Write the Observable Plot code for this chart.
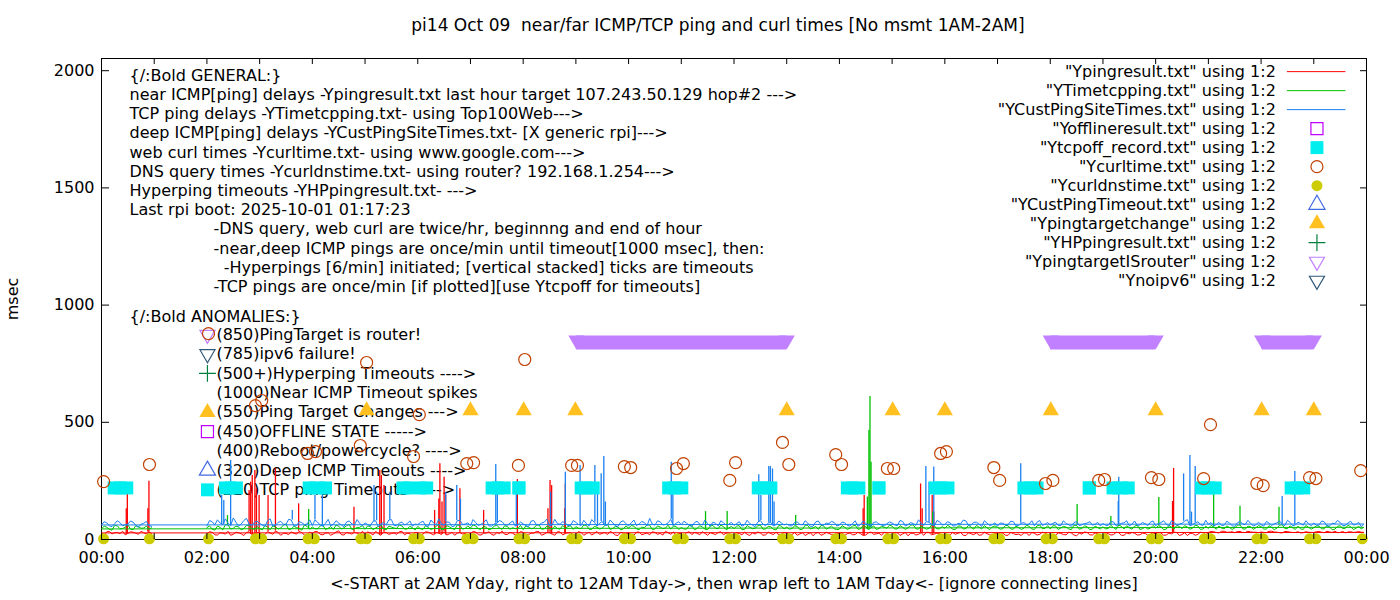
<!DOCTYPE html>
<html><head><meta charset="utf-8">
<script src="https://cdn.jsdelivr.net/npm/d3@7"></script>
<script src="https://cdn.jsdelivr.net/npm/@observablehq/plot@0.6"></script>
<style>body{margin:0;background:#fff}</style>
</head><body><div id="chart"></div>
<script>
// ---------------- DATA ----------------
const title = "pi14 Oct 09  near/far ICMP/TCP ping and curl times [No msmt 1AM-2AM]";
const xLabel = "<-START at 2AM Yday, right to 12AM Tday->, then wrap left to 1AM Tday<- [ignore connecting lines]";
const yLabel = "msec";
const xTickHours = [0,2,4,6,8,10,12,14,16,18,20,22,24];
const xTickLabels = ["00:00","02:00","04:00","06:00","08:00","10:00","12:00","14:00","16:00","18:00","20:00","22:00","00:00"];
const xMinorHours = [0,1,2,3,4,5,6,7,8,9,10,11,12,13,14,15,16,17,18,19,20,21,22,23,24];
const yTicks = [0,500,1000,1500,2000];

// file order: 2AM..midnight, then 0AM..1AM (wrap)
const baselineHours = [2,3,4,5,6,7,8,9,10,11,12,13,14,15,16,17,18,19,20,21,22,23,0];
// readings every 6 min from hh:00 ("A") and every 6 min from hh:03 ("B")
// near ICMP (Ypingresult)
const redA = [
"24 31 19 27 35 22 29 17 33 25","30 21 28 36 18 26 32 23 29 20","26 33 20 29 24 37 19 27 31 22",
"21 28 34 18 30 25 22 35 27 19","29 23 31 20 27 34 24 18 30 26","25 32 19 28 22 30 36 21 27 24",
"31 20 27 33 23 29 18 32 25 28","22 30 25 19 34 26 21 29 17 27","28 18 32 24 20 30 26 35 22 19",
"24 29 21 27 33 18 25 30 20 28","19 26 31 17 23 28 20 25 32 22","27 21 18 29 24 16 30 22 26 19",
"23 17 28 21 25 19 32 24 18 27","20 29 24 16 27 22 18 30 23 25","26 19 22 30 17 24 28 20 25 18",
"21 27 18 25 23 29 17 26 22 28","24 18 26 20 28 16 23 30 19 25","17 25 21 29 18 24 27 20 26 22",
"23 28 19 24 30 21 17 26 22 29","30 33 28 35 31 29 34 30 32 31","32 29 35 31 28 34 30 33 29 31",
"30 34 29 32 35 30 28 33 31 31","28 33 24 30 35 26 31 22 29 31"];
const redB = [
"33 20 29 23 18 31 24 30 21 28","18 33 22 30 26 21 27 35 19 31","34 22 27 18 32 21 30 23 27 35",
"32 19 26 31 22 28 33 20 24 30","20 33 25 30 21 19 31 27 23 20","34 20 27 33 18 25 22 30 19 33",
"22 27 34 18 30 23 33 20 29 21","33 18 31 26 22 30 34 19 31 23","21 31 20 28 33 22 19 29 32 26",
"18 33 30 20 26 29 21 33 27 18","28 20 22 29 32 18 31 21 19 30","20 30 24 17 29 27 18 31 21 29",
"29 25 20 31 17 28 22 27 31 20","28 17 30 26 19 29 31 20 27 18","17 30 27 18 29 21 18 31 20 29",
"29 18 30 21 17 27 30 19 31 20","17 28 21 31 19 27 32 20 28 17","29 19 31 18 28 30 19 27 18 29",
"30 18 27 31 17 29 26 18 31 20","34 30 35 31 33 34 30 35 31 29","30 35 32 29 34 31 30 28 33 30",
"33 31 35 30 29 34 32 30 34 30","21 34 29 25 20 33 27 35 24 26"];
const redSpikes = [[0.47,131],[0.49,195],[0.88,131],[0.90,249],[2.80,209],[2.83,244],[2.86,273],[2.91,294],
[2.94,216],[2.99,188],[3.16,188],[3.30,301],[3.74,152],[4.79,138],[5.28,294],[5.31,273],[5.36,230],
[6.32,124],[6.40,173],[6.42,323],[6.46,160],[6.50,266],[6.53,188],[6.80,216],[7.25,124],[7.89,256],
[8.47,131],[8.51,252],[8.54,230],[8.79,131],[8.80,237],[14.45,131],[14.47,188],[15.54,237],[15.57,131],
[15.76,188],[15.79,117],[20.32,162],[20.34,303]];

// TCP ping (YTimetcpping)
const greenA = [
"50 44 57 41 62 48 53 46 59 43","47 60 42 54 49 66 45 51 40 56","53 45 61 48 43 57 50 64 46 52",
"44 55 49 62 41 53 47 58 45 50","56 43 51 47 65 45 54 42 60 48","49 58 44 52 46 61 43 55 50 47",
"42 53 48 63 45 51 57 44 49 59","55 46 60 43 52 48 64 47 53 45","48 57 42 50 61 45 53 49 44 56",
"51 44 58 47 53 42 60 46 55 49","46 59 43 52 48 62 45 54 41 57","53 47 56 44 60 49 43 58 50 46",
"44 52 48 61 45 55 50 43 57 48","57 45 52 49 63 44 51 47 59 46","48 55 43 58 46 52 60 45 50 54",
"52 46 59 44 51 48 56 43 62 47","45 58 49 53 42 60 47 55 44 51","54 47 51 62 45 50 57 43 53 48",
"49 56 44 52 60 46 53 48 58 45","47 53 58 45 51 49 62 44 55 50","55 44 52 48 63 46 50 57 43 52",
"50 57 46 53 44 59 48 54 47 45","45 52 40 58 47 63 42 55 49 44"];
const greenB = [
"58 40 52 63 45 57 42 60 48 55","41 53 58 45 61 43 56 47 62 44","46 58 42 55 62 45 59 43 51 60",
"58 42 55 46 57 49 62 44 56 41","46 60 43 56 42 59 47 62 44 57","62 45 56 41 57 49 59 44 46 60",
"58 46 61 44 57 42 47 60 55 43","48 62 44 56 45 60 43 56 41 58","60 45 53 63 42 58 46 61 57 43",
"45 60 42 59 44 57 48 62 42 56","57 42 60 46 58 44 56 43 60 45","44 58 42 61 45 56 60 44 57 42",
"59 43 57 44 60 42 58 47 52 61","45 59 43 61 46 58 44 62 45 55","60 43 57 45 61 44 52 59 42 58",
"44 60 45 57 43 61 45 58 46 59","59 43 56 45 61 44 58 42 57 45","45 60 43 56 59 44 61 46 45 60",
"58 42 60 45 56 59 44 61 43 57","60 44 49 58 43 61 46 57 43 59","45 59 42 61 47 58 43 45 60 44",
"58 45 60 42 56 46 61 43 57 52","57 43 60 46 52 44 59 48 57 50"];
const greenSpikes = [[2.39,102],[3.93,128],[11.46,119],[11.87,119],[13.17,102],[14.53,181],[14.56,465],
[14.58,610],[14.60,330],[15.77,117],[18.51,149],[19.15,98],[20.06,179],[21.10,193],[21.60,142],[22.34,138]];

// deep ICMP (YCustPingSiteTimes)
const blueA = [
"58 76 84 63 70 92 57 81 66 73","69 55 88 61 77 64 83 59 72 66","60 74 57 86 65 70 55 79 63 68",
"71 58 80 66 62 85 59 74 68 57","64 78 56 70 88 61 73 58 82 66","59 72 65 84 57 69 76 61 79 63",
"67 55 81 62 74 58 86 65 70 60","73 60 68 85 57 77 62 71 56 80","58 83 66 72 90 61 75 64 86 69",
"63 70 56 78 62 67 74 58 71 65","60 76 63 68 55 81 59 72 64 70","66 58 75 62 70 57 79 61 68 73",
"61 72 57 80 64 69 55 75 62 67","70 59 77 63 68 84 60 73 58 76","64 71 58 67 79 62 74 56 70 63",
"57 69 63 76 60 72 66 58 81 65","62 74 59 68 56 77 63 70 61 73","68 60 75 64 71 58 79 62 67 74",
"59 72 66 80 61 69 85 63 76 60","65 58 73 61 70 56 78 64 69 62","63 77 60 71 66 82 58 74 61 68",
"70 62 75 58 67 73 60 78 64 55","62 71 55 80 58 66 74 52 69 60"];
const blueB = [
"81 62 70 88 59 74 66 90 61 78","62 80 57 73 66 86 58 76 63 84","83 61 69 58 80 62 75 66 85 59",
"64 77 55 73 83 60 70 62 79 66","72 58 83 62 67 75 55 80 64 71","85 60 73 58 66 81 63 70 57 74",
"59 78 64 70 87 62 68 76 59 81","64 82 57 74 69 60 83 58 75 67","71 60 77 58 66 80 62 71 59 76",
"78 60 72 65 83 57 69 80 62 73","68 57 82 61 74 65 70 58 79 62","59 73 64 80 56 75 62 70 77 58",
"74 60 68 56 79 62 73 66 58 75","62 81 58 72 60 70 77 65 81 62","76 58 69 83 60 73 65 80 59 71",
"70 62 78 58 69 63 80 74 60 72","69 60 80 63 72 59 68 76 65 58","61 77 58 69 80 65 60 73 59 79",
"68 80 57 73 65 78 59 70 63 82","72 63 60 78 59 71 66 82 58 74","57 70 66 79 59 73 62 68 80 59",
"61 79 57 69 81 59 71 62 73 66","76 58 67 72 63 79 60 65 77 56"];
const blueSpikes = [[2.28,188],[2.32,166],[2.45,337],[3.62,124],[4.05,188],[4.19,188],[5.17,230],[5.22,202],
[5.47,202],[6.53,202],[6.74,230],[6.81,173],[7.48,320],[7.51,216],[7.87,202],[8.52,202],[8.80,287],
[9.08,316],[9.36,316],[9.41,230],[9.48,280],[9.53,354],[9.56,160],[10.81,330],[10.84,202],[12.47,276],
[12.51,188],[12.66,311],[12.69,311],[12.73,301],[12.76,160],[15.64,311],[15.70,244],[15.79,309],
[17.44,323],[19.29,162],[19.30,266],[20.53,280],[20.65,358],[20.68,117],[20.75,311],[22.40,183],[22.64,290]];

// TCP ping timeout runs (Ytcpoff_record, plotted at 220): first / last minute of each run (hours)
const tcpOffStart = [0.24,2.35,3.94,5.72,7.41,7.92,9.10,10.76,12.46,14.15,14.75,15.82,17.50,18.74,19.19,20.87,22.57];
const tcpOffEnd   = [0.48,2.56,4.25,6.17,7.64,7.92,9.33,11.01,12.70,14.37,14.75,16.06,17.75,18.74,19.48,21.13,22.81];
const tcpOffValue = 220;

// ping target is router (plotted at 850): runs
const routerStart = [9.01,18.01,22.02];
const routerEnd   = [13.00,20.00,23.00];
const routerValue = 850;

// ping target changes (plotted at 550)
const targetChangeHours = [5.03,7.00,8.01,8.99,13.00,15.01,16.00,18.01,20.00,22.01,23.00];
const targetChangeValue = 550;

// web curl times (Ycurltime)
const curlHours = [0.04,0.91,2.03,2.92,3.04,3.91,4.06,4.91,5.03,5.92,6.03,6.93,7.06,7.91,8.03,8.92,9.03,9.92,10.04,
10.91,11.04,11.92,12.03,12.92,13.04,13.93,14.04,14.91,15.03,15.92,16.03,16.93,17.04,17.91,18.05,18.92,19.03,
19.92,20.06,20.91,21.04,21.92,22.04,22.92,23.04,23.89];
const curlMsec = [247,320,878,571,593,367,375,401,755,354,533,324,328,316,768,316,316,311,307,
303,324,252,328,414,320,362,320,303,303,367,375,307,252,239,252,252,256,
264,256,260,490,239,230,264,260,294];

// DNS query times (Ycurldnstime)
const dnsHours = [0.04,0.91,2.03,2.92,3.04,3.92,4.04,4.92,5.03,5.92,6.03,6.93,7.05,7.92,8.03,8.92,9.03,9.92,10.04,
10.92,11.04,11.92,12.03,12.92,13.04,13.93,14.04,14.92,15.03,15.92,16.03,16.93,17.04,17.92,18.04,18.92,19.03,
19.92,20.05,20.92,21.04,21.92,22.04,22.92,23.04,23.92];
const dnsMsec = [3,3,3,3,3,3,3,3,3,3,3,3,3,3,3,3,3,3,3,3,3,3,3,3,3,3,3,3,3,3,3,3,3,3,3,3,3,3,3,3,3,3,3,3,3,3];

const generalLines = [
"{/:Bold GENERAL:}",
"near ICMP[ping] delays -Ypingresult.txt last hour target 107.243.50.129 hop#2 --->",
"TCP ping delays -YTimetcpping.txt- using Top100Web--->",
"deep ICMP[ping] delays -YCustPingSiteTimes.txt- [X generic rpi]--->",
"web curl times -Ycurltime.txt- using www.google.com--->",
"DNS query times -Ycurldnstime.txt- using router? 192.168.1.254--->",
"Hyperping timeouts -YHPpingresult.txt- --->",
"Last rpi boot: 2025-10-01 01:17:23"];
const noteLines = [
"-DNS query, web curl are twice/hr, beginnng and end of hour",
"-near,deep ICMP pings are once/min until timeout[1000 msec], then:",
"\u00a0\u00a0-Hyperpings [6/min] initiated; [vertical stacked] ticks are timeouts",
"-TCP pings are once/min [if plotted][use Ytcpoff for timeouts]"];
const anomalyHeader = "{/:Bold ANOMALIES:}";
const anomalyLines = ["(850)PingTarget is router!","(785)ipv6 failure!","(500+)Hyperping Timeouts ---->",
"(1000)Near ICMP Timeout spikes","(550)Ping Target Changes --->","(450)OFFLINE STATE ----->",
"(400)Reboot/powercycle? ---->","(320)Deep ICMP Timeouts ---->","(220)TCP ping Timeouts ----->"];
const legendLabels = ['"Ypingresult.txt" using 1:2','"YTimetcpping.txt" using 1:2','"YCustPingSiteTimes.txt" using 1:2',
'"Yofflineresult.txt" using 1:2','"Ytcpoff_record.txt" using 1:2','"Ycurltime.txt" using 1:2','"Ycurldnstime.txt" using 1:2',
'"YCustPingTimeout.txt" using 1:2','"Ypingtargetchange" using 1:2','"YHPpingresult.txt" using 1:2',
'"YpingtargetISrouter" using 1:2','"Ynoipv6" using 1:2'];

// ---------------- STYLES ----------------
const C = {red:"#ff0000", green:"#00c000", blue:"#1a80f0", offline:"#c000ff", tcpoff:"#00eeee", curl:"#c04000",
  dns:"#cccc00", deep:"#4169e1", target:"#ffc020", hp:"#008040", router:"#c080ff", ipv6:"#305878"};
const legendKeys = [
 {kind:"line", c:C.red},{kind:"line", c:C.green},{kind:"line", c:C.blue},
 {kind:"dot", c:C.offline, s:"square", fill:false, r:6.8, rot:0},
 {kind:"dot", c:C.tcpoff, s:"square", fill:true, r:7.3, rot:0},
 {kind:"dot", c:C.curl, s:"circle", fill:false, r:6, rot:0},
 {kind:"dot", c:C.dns, s:"circle", fill:true, r:5.5, rot:0},
 {kind:"dot", c:C.deep, s:"triangle", fill:false, r:6, rot:0},
 {kind:"dot", c:C.target, s:"triangle", fill:true, r:6, rot:0},
 {kind:"dot", c:C.hp, s:"plus", fill:false, r:5.5, rot:0},
 {kind:"dot", c:C.router, s:"triangle", fill:false, r:5.6, rot:180},
 {kind:"dot", c:C.ipv6, s:"triangle", fill:false, r:5.6, rot:180}];
const anomalyKeyRows = [[0,10],[1,11],[2,9],[4,8],[5,3],[7,7],[8,4]];

// layout (data units: hours, msec)
const YMAX = 2052, PLOT_H = 481, PLOT_W = 1265;
const pxY = p => p * YMAX / PLOT_H, pxX = p => p * 24 / PLOT_W;
const GEN = {x: 0.531, y: 1979, step: pxY(19.2)};
const NOTE = {x: 2.125};
const ANOM = {hx: 0.531, hy: 951, x: 2.18, y: 874, step: pxY(19.4), keyX: 2.01};
const LEG = {x: 22.28, y: 1996, step: pxY(19), l1: 22.50, l2: 23.61, sx: 23.06};
const FONT = "DejaVu Sans", FS = 16;

// ---------------- BUILD ----------------
const fileKey = h => h < 1.5 ? h + 24 : h;
function baseline(a, b) {
  const pts = [];
  const add = (arr, off) => arr.forEach((s, k) => s.trim().split(/\s+/).map(Number)
    .forEach((v, i) => pts.push({h: baselineHours[k] + off + i / 10, v})));
  add(a, 0); add(b, 0.05);
  pts.sort((p, q) => fileKey(p.h) - fileKey(q.h));
  return pts;
}
// each spike is a one-minute excursion from the surrounding reading
function spikeRules(pts, spikes) {
  return spikes.map(([h, v]) => {
    const near = d3.least(pts, d => Math.abs(d.h - h));
    return {h, v, b: near.v};
  });
}
const red = baseline(redA, redB), green = baseline(greenA, greenB), blue = baseline(blueA, blueB);
const redS = spikeRules(red, redSpikes), greenS = spikeRules(green, greenSpikes), blueS = spikeRules(blue, blueSpikes);
const tcpRuns = tcpOffStart.map((s, i) => ({s, e: tcpOffEnd[i]}));
const tcpEnds = tcpRuns.flatMap(d => [d.s, d.e]);
const routerRuns = routerStart.map((s, i) => ({s, e: routerEnd[i]}));
const routerEnds = routerRuns.flatMap(d => [d.s, d.e]);
const curl = curlHours.map((h, i) => ({h, v: curlMsec[i]}));
const dns = dnsHours.map((h, i) => ({h, v: dnsMsec[i]}));

const genRows = generalLines.map((t, i) => ({t, y: GEN.y - i * GEN.step}));
const noteRows = noteLines.map((t, i) => ({t, y: GEN.y - (i + generalLines.length) * GEN.step}));
const anomRows = anomalyLines.map((t, i) => ({t, y: ANOM.y - i * ANOM.step}));
const legRows = legendLabels.map((t, i) => ({t, y: LEG.y - i * LEG.step, k: legendKeys[i]}));
const anomKeys = anomalyKeyRows.map(([row, ki]) => ({y: ANOM.y - row * ANOM.step, k: legendKeys[ki]}));

function keyMarks(rows, x) {
  const groups = d3.groups(rows.filter(d => d.k.kind === "dot"), d => [d.k.c, d.k.s, d.k.fill, d.k.r, d.k.rot].join("|"));
  return groups.map(([, g]) => {
    const k = g[0].k;
    return Plot.dot(g, {x: () => x, y: "y", symbol: k.s, r: k.r, rotate: k.rot,
      fill: k.fill ? k.c : "none", stroke: k.fill ? "none" : k.c, strokeWidth: 1.2});
  });
}

const txt = (data, o) => Plot.text(data, {fontFamily: FONT, fontSize: FS, fill: "black", ...o});

const chart = Plot.plot({
  width: 1400, height: 600,
  marginLeft: 101, marginRight: 34, marginTop: 58, marginBottom: 61,
  x: {domain: [0, 24], axis: null},
  y: {domain: [0, YMAX], axis: null},
  style: {fontFamily: FONT, fontSize: FS + "px", background: "white", overflow: "visible"},
  marks: [
    // annotations (drawn under the data)
    txt(genRows, {x: () => GEN.x, y: "y", text: "t", textAnchor: "start"}),
    txt(noteRows, {x: () => NOTE.x, y: "y", text: "t", textAnchor: "start"}),
    txt([anomalyHeader], {x: () => ANOM.hx, y: () => ANOM.hy, text: d => d, textAnchor: "start"}),
    txt(anomRows, {x: () => ANOM.x, y: "y", text: "t", textAnchor: "start"}),
    ...keyMarks(anomKeys, ANOM.keyX),
    // legend
    txt(legRows, {x: () => LEG.x, y: "y", text: "t", textAnchor: "end"}),
    Plot.ruleY(legRows.filter(d => d.k.kind === "line"), {x1: LEG.l1, x2: LEG.l2, y: "y", stroke: d => d.k.c, strokeWidth: 1}),
    ...keyMarks(legRows, LEG.sx),
    // frame
    Plot.frame({stroke: "black", strokeWidth: 1}),
    // series
    Plot.line(red, {x: "h", y: "v", stroke: C.red, strokeWidth: 1}),
    Plot.ruleX(redS, {x: "h", y1: "b", y2: "v", stroke: C.red, strokeWidth: 1.3}),
    Plot.line(green, {x: "h", y: "v", stroke: C.green, strokeWidth: 1}),
    Plot.ruleX(greenS, {x: "h", y1: "b", y2: "v", stroke: C.green, strokeWidth: 1.3}),
    Plot.line(blue, {x: "h", y: "v", stroke: C.blue, strokeWidth: 1}),
    Plot.ruleX(blueS, {x: "h", y1: "b", y2: "v", stroke: C.blue, strokeWidth: 1.3}),
    Plot.ruleY(tcpRuns, {x1: "s", x2: "e", y: tcpOffValue, stroke: C.tcpoff, strokeWidth: 13}),
    Plot.dot(tcpEnds, {x: d => d, y: tcpOffValue, symbol: "square", r: 7.3, fill: C.tcpoff}),
    Plot.dot(curl, {x: "h", y: "v", r: 6, stroke: C.curl, strokeWidth: 1.2}),
    Plot.dot(dns, {x: "h", y: "v", r: 5.5, fill: C.dns}),
    Plot.dot(targetChangeHours, {x: d => d, y: targetChangeValue, symbol: "triangle", r: 6, fill: C.target}),
    Plot.ruleY(routerRuns, {x1: "s", x2: "e", y: routerValue, dy: 2.3, stroke: C.router, strokeWidth: 14}),
    Plot.dot(routerEnds, {x: d => d, y: routerValue, symbol: "triangle", rotate: 180, r: 6, fill: C.router}),
    // ticks (inward, mirrored)
    Plot.ruleX(xMinorHours, {x: d => d, y1: 0, y2: pxY(6), stroke: "black"}),
    Plot.ruleX(xMinorHours, {x: d => d, y1: YMAX, y2: YMAX - pxY(6), stroke: "black"}),
    Plot.ruleY(yTicks, {y: d => d, x1: 0, x2: pxX(8), stroke: "black"}),
    Plot.ruleY(yTicks, {y: d => d, x1: 24, x2: 24 - pxX(6), stroke: "black"}),
    // tick labels
    txt(xTickHours, {x: d => d, frameAnchor: "bottom", lineAnchor: "middle", dy: 18, text: (d, i) => xTickLabels[i]}),
    txt(yTicks, {y: d => d, frameAnchor: "left", lineAnchor: "middle", dx: -7, textAnchor: "end", text: d => String(d)}),
    // titles
    txt([title], {frameAnchor: "top", lineAnchor: "middle", dy: -33, dx: -16, fontSize: 17, text: d => d}),
    txt([xLabel], {frameAnchor: "bottom", lineAnchor: "middle", dy: 44, text: d => d}),
    txt([yLabel], {frameAnchor: "left", lineAnchor: "middle", textAnchor: "middle", dx: -89, rotate: -90, text: d => d})
  ]
});
document.getElementById("chart").appendChild(chart);
</script>
</body></html>
